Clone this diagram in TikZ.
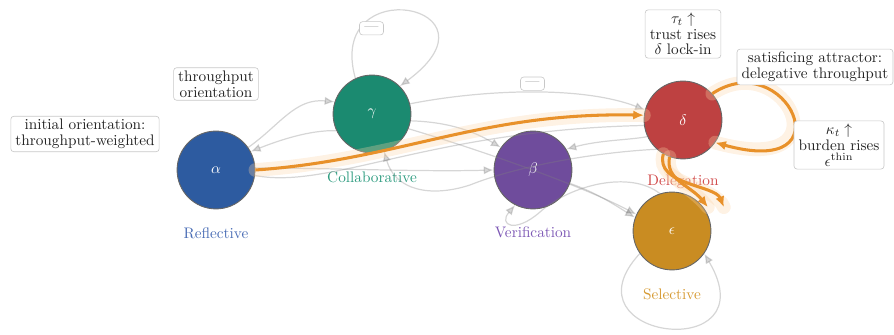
\documentclass[tikz,border=0pt]{standalone}
\usetikzlibrary{arrows.meta,calc}
\definecolor{calpha}{HTML}{2D5BA0}
\definecolor{cgamma}{HTML}{1B8A70}
\definecolor{cbeta}{HTML}{6F4C9C}
\definecolor{cdelta}{HTML}{BE4141}
\definecolor{ceps}{HTML}{C98C22}
\definecolor{lalpha}{HTML}{4A6DB5}
\definecolor{lgamma}{HTML}{2E9C80}
\definecolor{lbeta}{HTML}{7D58B5}
\definecolor{ldelta}{HTML}{D14B4B}
\definecolor{leps}{HTML}{D69A32}
\definecolor{nodeborder}{HTML}{666666}
\definecolor{boxgray}{HTML}{C8C8C8}
\definecolor{textdark}{HTML}{222222}
\definecolor{edgegray}{HTML}{808080}
\definecolor{dashgray}{HTML}{888888}
\definecolor{hotorange}{HTML}{E8912A}
\definecolor{glowor}{HTML}{FBD3A5}
\begin{document}
\begin{tikzpicture}[x=0.655pt,y=-0.655pt,
  st/.style={circle,draw=nodeborder,line width=0.6pt,minimum size=51pt,inner sep=0pt,text=white,font=\fontsize{10}{12}\selectfont},
  lab/.style={font=\fontsize{10}{12}\selectfont},
  note/.style={draw=boxgray,fill=white,rounded corners=2pt,line width=0.4pt,align=center,font=\fontsize{10}{10.3}\selectfont,text=textdark,inner xsep=3pt,inner ysep=2pt},
  dashbox/.style={draw=boxgray,fill=white,rounded corners=2pt,line width=0.4pt,text=dashgray,inner sep=0pt,minimum width=15.7pt,minimum height=8.7pt,font=\fontsize{9}{9}\selectfont},
  edge/.style={draw=edgegray,opacity=0.32,line width=0.8pt,-{Latex[length=6.5pt,width=5.5pt]}},
  plain/.style={draw=edgegray,opacity=0.32,line width=0.8pt},
  hot/.style={draw=hotorange,line width=2pt,-{Latex[length=7pt,width=6pt]}},
  glow/.style={draw=glowor,draw opacity=0.3,line width=9pt,line cap=round},
]
\useasboundingbox (0,0) rectangle (894,335);

% states
\node[st,fill=calpha] (a) at (216,170) {$\alpha$};
\node[st,fill=cgamma] (g) at (372,114) {$\gamma$};
\node[st,fill=cbeta]  (b) at (533,170) {$\beta$};
\node[st,fill=cdelta] (d) at (683,120) {$\delta$};
\node[st,fill=ceps]   (e) at (672,231) {$\epsilon$};

% state names
\node[lab,text=lalpha] (la) at (216,233) {Reflective};
\node[lab,text=lgamma] (lg) at (372,177) {Collaborative};
\node[lab,text=lbeta]  (lb) at (533,232) {Verification};
\node[lab,text=ldelta] (ld) at (683,182) {Delegation};
\node[lab,text=leps]   (le) at (672,294) {Selective};

% gray transitions
\draw[edge] (g.115) .. controls (325,-30) and (510,5) .. (g.45);
\draw[edge] (a.35) .. controls (280,125) and (295,98) .. (g.162);
\draw[edge] (g.205) .. controls (310,130) and (280,140) .. (a.28);
\draw[edge] (a.3) .. controls (330,168) and (420,172) .. (b.180);
\draw[edge] (g.-10) .. controls (450,122) and (475,132) .. (b.145);
\draw[edge] (g.-22) .. controls (480,150) and (580,185) .. (e.155);
\draw[edge] (b.-20) .. controls (595,192) and (615,205) .. (e.160);
\draw[edge] (g.15) .. controls (480,90) and (580,85) .. (d.165);
\draw[edge] (d.205) .. controls (630,140) and (600,140) .. (b.32);
\draw[edge] (d.228) .. controls (600,152) and (520,165) .. (470,185)
            .. controls (430,198) and (395,190) .. (g.288);
\draw[edge] (e.108) .. controls (630,170) and (570,185) .. (540,212)
            .. controls (515,234) and (498,225) .. (b.243);
\draw[plain] (a.-8) .. controls (330,190) and (430,130) .. (d.188);
\draw[edge] (e.215) .. controls (560,340) and (770,365) .. (e.-35);

% highlighted path
\draw[glow] (a.0) .. controls (400,160) and (480,112) .. (d.173);
\draw[glow] (d.42) .. controls (785,45) and (850,180) .. (d.-35);
\draw[glow] (d.250) .. controls (665,180) and (690,185) .. ([shift={(8,4)}]e.45);
\draw[glow] (d.240) .. controls (655,185) and (715,185) .. ([shift={(24,4)}]e.45);
\draw[hot] (a.0) .. controls (400,160) and (480,112) .. (d.173);
\draw[hot] (d.42) .. controls (785,45) and (850,180) .. (d.-35);
\draw[hot] (d.250) .. controls (665,180) and (690,185) .. ([shift={(8,4)}]e.45);
\draw[hot] (d.240) .. controls (655,185) and (715,185) .. ([shift={(24,4)}]e.45);

% annotations
\node[dashbox] (n1) at (371.5,28.3) {\textemdash};
\node[dashbox] (n2) at (532.5,83.7) {\textemdash};
\node[note] (n3) at (85,134) {initial orientation:\\throughput-weighted};
\node[note] (n4) at (216,84) {throughput\\orientation};
\node[note] (n5) at (683,34) {$\tau_t\uparrow$\\trust rises\\$\delta$ lock-in};
\node[note] (n6) at (815,67) {satisficing attractor:\\delegative throughput};
\node[note] (n7) at (839,145) {$\kappa_t\uparrow$\\burden rises\\$\epsilon^{\mathrm{thin}}$};
\end{tikzpicture}
\end{document}
